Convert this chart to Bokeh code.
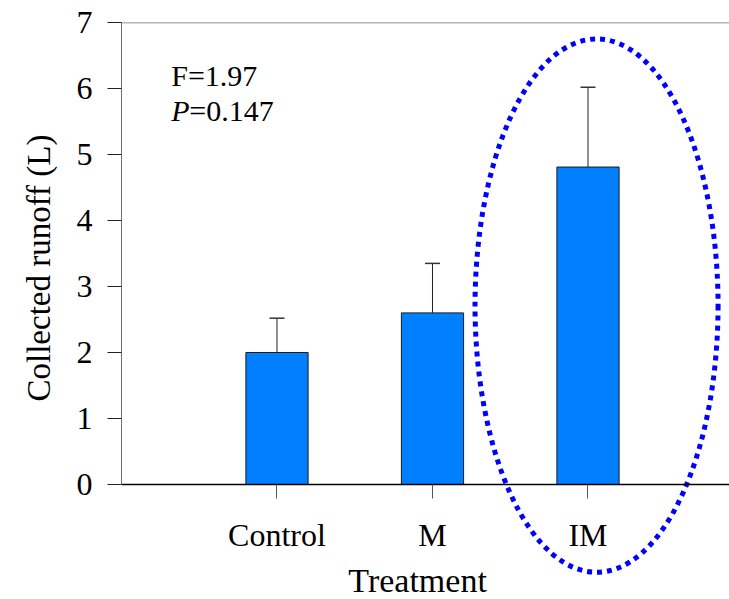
from bokeh.plotting import figure
from bokeh.models import LinearAxis, FixedTicker, Whisker, TeeHead, ColumnDataSource, Label, Range1d, Title
from bokeh.embed import file_html
from bokeh.resources import INLINE

# ---- data ----
categories = ["Control", "M", "IM"]
means = [2.0, 2.6, 4.81]
errors = [0.52, 0.75, 1.21]
y_ticks = [0, 1, 2, 3, 4, 5, 6, 7]
stat_f = "F=1.97"
stat_p_value = "=0.147"
y_title = "Collected runoff (L)"
x_title = "Treatment"

# highlight ellipse around IM (data units)
ell_x, ell_y, ell_w, ell_h = 3.055, 2.71, 1.563, 8.08

FONT = "Liberation Serif"
positions = [i + 1 for i in range(len(categories))]
upper = [m + e for m, e in zip(means, errors)]
src = ColumnDataSource(dict(x=positions, top=means, upper=upper))

p = figure(width=729, height=599, output_backend="svg", toolbar_location=None,
           x_range=Range1d(0, 3.91), y_range=Range1d(-1.7424, 7.0),
           x_axis_location=None, y_axis_location=None,
           min_border_left=121, min_border_right=0, min_border_top=22, min_border_bottom=0)
p.outline_line_color = None
p.xgrid.visible = False
p.ygrid.visible = False
p.background_fill_color = "white"

# bars
p.vbar(x="x", top="top", bottom=0, width=0.4, source=src,
       fill_color="#0080ff", line_color="#1a1a1a", line_width=1)

# error bars (upper only)
w = Whisker(base="x", upper="upper", lower="top", source=src, dimension="height",
            line_color="#222222", line_width=1,
            upper_head=TeeHead(size=15, line_color="#333333", line_width=1.5),
            lower_head=None)
p.add_layout(w)

# dotted ellipse
p.ellipse(x=[ell_x], y=[ell_y], width=ell_w, height=ell_h, fill_color=None,
          line_color="#0000ff", line_width=5, line_dash="5 5", line_cap="butt")

# y axis
yax = LinearAxis(ticker=FixedTicker(ticks=y_ticks), bounds=(0, 7))
yax.axis_line_color = "#6e6e6e"
yax.major_tick_out = 14
yax.major_tick_in = 0
yax.major_tick_line_color = "#222222"
yax.minor_tick_line_color = None
yax.major_label_text_font = FONT
yax.major_label_text_font_size = "32px"
yax.major_label_text_color = "black"
yax.major_label_standoff = 15
p.add_layout(yax, "left")

# y title (placed as a side title so it can sit off-centre like the original)
p.add_layout(Title(text=y_title, align="left", offset=198, standoff=33,
                   text_font=FONT, text_font_size="33px", text_font_style="normal",
                   text_color="black"), "left")

# x axis fixed at y=0
xax = LinearAxis(ticker=FixedTicker(ticks=positions), fixed_location=0)
xax.major_label_overrides = {pos: c for pos, c in zip(positions, categories)}
xax.axis_line_color = "black"
xax.axis_line_width = 1.5
xax.major_tick_out = 14
xax.major_tick_in = 0
xax.major_tick_line_color = "#555555"
xax.minor_tick_line_color = None
xax.major_label_text_font = FONT
xax.major_label_text_font_size = "32px"
xax.major_label_text_color = "black"
xax.major_label_standoff = 18
p.add_layout(xax, "below")

# top line
tax = LinearAxis(ticker=FixedTicker(ticks=[]), fixed_location=7)
tax.axis_line_color = "#6e6e6e"
tax.axis_line_width = 1.5
tax.major_tick_line_color = None
tax.minor_tick_line_color = None
tax.major_label_text_font_size = "0px"
p.add_layout(tax, "above")

# x title
p.add_layout(Label(x=1.904, y=-1.455, text=x_title, text_font=FONT,
                   text_font_size="34px", text_color="black",
                   text_align="center", text_baseline="alphabetic"))

# stats text
p.add_layout(Label(x=0.32, y=6.20, text=stat_f, text_font=FONT, text_font_size="30px",
                   text_color="black", text_baseline="alphabetic"))
p.add_layout(Label(x=0.32, y=5.66, text="P", text_font=FONT, text_font_size="30px",
                   text_font_style="italic", text_color="black", text_baseline="alphabetic"))
p.add_layout(Label(x=0.32 + 18 / 155.5, y=5.66, text=stat_p_value, text_font=FONT,
                   text_font_size="30px", text_color="black", text_baseline="alphabetic"))

open("out.html", "w").write(file_html(p, INLINE))
